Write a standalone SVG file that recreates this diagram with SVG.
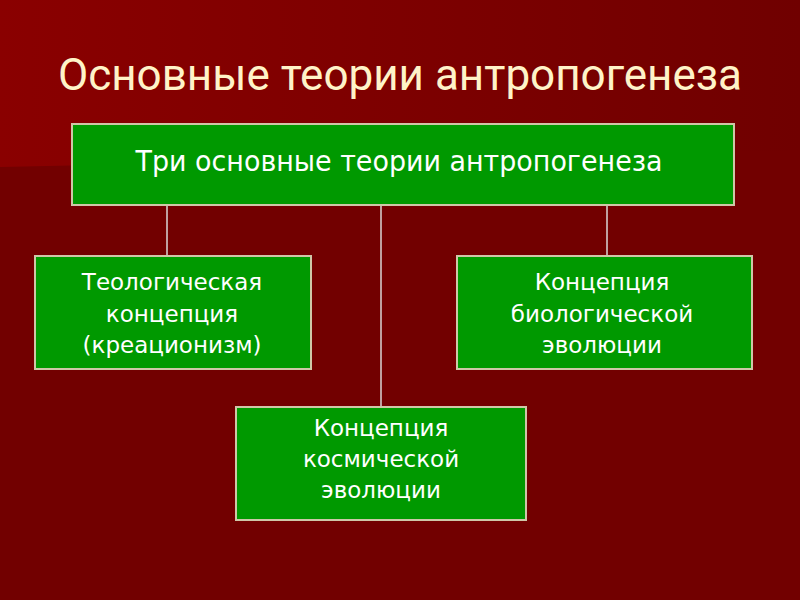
<svg xmlns="http://www.w3.org/2000/svg" width="800" height="600" viewBox="0 0 800 600">
<defs>
<linearGradient id="topg" x1="0" y1="0" x2="1" y2="0">
<stop offset="0" stop-color="#8a0000"/>
<stop offset="1" stop-color="#700000"/>
</linearGradient>
<style>
.box{fill:#009900;stroke:#cfc7a8;stroke-width:2}
.lbl{font-family:"DejaVu Sans","Liberation Sans",sans-serif;fill:#ffffff;text-anchor:middle}
.n{font-size:23px}
.conn line{stroke:#bfa0a0;stroke-width:2}
</style>
</defs>
<rect x="0" y="0" width="800" height="600" fill="#720000"/>
<polygon points="0,0 800,0 800,150 0,167" fill="url(#topg)"/>
<text x="400" y="90" font-family="Roboto, DejaVu Sans, sans-serif" font-size="44" fill="#fff3c8" text-anchor="middle">Основные теории антропогенеза</text>
<g id="connectors" class="conn">
<line x1="167" y1="205" x2="167" y2="256"/>
<line x1="381" y1="205" x2="381" y2="407"/>
<line x1="607" y1="205" x2="607" y2="256"/>
</g>
<g id="root">
<rect class="box" x="72" y="124" width="662" height="81"/>
<text class="lbl" x="399" y="171" font-size="29" textLength="527" lengthAdjust="spacingAndGlyphs">Три основные теории антропогенеза</text>
</g>
<g id="theological">
<rect class="box" x="35" y="256" width="276" height="113"/>
<text class="lbl n" x="172" y="290">Теологическая</text>
<text class="lbl n" x="172" y="321.5">концепция</text>
<text class="lbl n" x="172" y="353">(креационизм)</text>
</g>
<g id="biological">
<rect class="box" x="457" y="256" width="295" height="113"/>
<text class="lbl n" x="602" y="290">Концепция</text>
<text class="lbl n" x="602" y="321.5">биологической</text>
<text class="lbl n" x="602" y="353">эволюции</text>
</g>
<g id="cosmic">
<rect class="box" x="236" y="407" width="290" height="113"/>
<text class="lbl n" x="381" y="436">Концепция</text>
<text class="lbl n" x="381" y="467">космической</text>
<text class="lbl n" x="381" y="498">эволюции</text>
</g>
</svg>
